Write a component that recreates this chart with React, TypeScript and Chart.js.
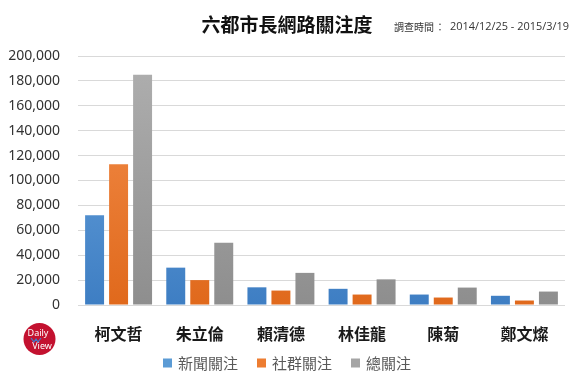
import React, { useEffect, useRef } from "react";
import { Chart, registerables } from "chart.js";
Chart.register(...registerables);

const categories = ["柯文哲", "朱立倫", "賴清德", "林佳龍", "陳菊", "鄭文燦"];
const newsValues = [72000, 30000, 14200, 13000, 8400, 7400];
const socialValues = [113000, 20000, 11600, 8400, 6000, 3600];
const totalValues = [185000, 50000, 25800, 20600, 14000, 10800];
const seriesNames = ["新聞關注", "社群關注", "總關注"];
const seriesColors = ["#5B9BD5", "#ED7D31", "#A5A5A5"];
const titleText = "六都市長網路關注度";
const subtitleLabel = "調查時間";
const subtitleDates = "2014/12/25 - 2015/3/19";

const CJK = '"Noto Sans CJK TC", "Noto Sans", sans-serif';

function grad(top: string, bottom: string) {
  return (ctx: any) => {
    const chart = ctx.chart;
    const area = chart.chartArea;
    if (!area) return bottom;
    const g = chart.ctx.createLinearGradient(0, area.top, 0, area.bottom);
    g.addColorStop(0, top);
    g.addColorStop(1, bottom);
    return g;
  };
}

const decorPlugin = {
  id: "decor",
  afterDraw(chart: any) {
    const c = chart.ctx;
    c.save();
    c.fillStyle = "#111";
    c.textBaseline = "middle";
    c.textAlign = "center";
    c.font = `bold 19px ${CJK}`;
    c.fillText(titleText, 287, 25);
    c.textAlign = "left";
    c.fillStyle = "#333";
    c.font = `10px ${CJK}`;
    c.fillText(subtitleLabel, 394, 27);
    c.fillText("：", 435, 27);
    c.font = `12px "Open Sans", "Noto Sans", sans-serif`;
    const w = c.measureText(subtitleDates).width;
    const fs = Math.min(12, (12 * 119) / w);
    c.font = `${fs}px "Open Sans", "Noto Sans", sans-serif`;
    c.fillText(subtitleDates, 450, 27);

    // legend
    c.font = `15px ${CJK}`;
    let x = 163;
    const y = 363;
    seriesNames.forEach((name, i) => {
      c.fillStyle = seriesColors[i];
      c.fillRect(x, y - 4.5, 9, 9);
      c.fillStyle = "#595959";
      c.fillText(name, x + 15, y);
      x += 15 + c.measureText(name).width + 19;
    });

    // logo
    c.beginPath();
    c.arc(39.5, 339, 16, 0, Math.PI * 2);
    c.fillStyle = "#C3112F";
    c.fill();
    c.textAlign = "center";
    c.fillStyle = "#fff";
    c.font = `9px "Noto Sans", sans-serif`;
    c.fillText("Daily", 38, 333);
    c.fillText("View", 42, 346);
    c.strokeStyle = "#3A7FD0";
    c.lineWidth = 1.2;
    c.beginPath();
    c.moveTo(31, 338);
    c.lineTo(34, 342);
    c.lineTo(36, 339);
    c.lineTo(38, 342);
    c.lineTo(41, 338);
    c.stroke();
    c.restore();
  },
};

export default function App() {
  const ref = useRef<HTMLCanvasElement>(null);
  useEffect(() => {
    if (!ref.current) return;
    const chart = new Chart(ref.current, {
      type: "bar",
      data: {
        labels: categories,
        datasets: [
          { label: seriesNames[0], data: newsValues, backgroundColor: grad("#70A9E1", "#3E7EC3") },
          { label: seriesNames[1], data: socialValues, backgroundColor: grad("#F4904E", "#E0691C") },
          { label: seriesNames[2], data: totalValues, backgroundColor: grad("#AFAFAF", "#8E8E8E") },
        ],
      },
      options: {
        animation: false,
        responsive: false,
        layout: { padding: { top: 56, right: 16, bottom: 0, left: 0 } },
        datasets: { bar: { categoryPercentage: 0.887, barPercentage: 0.79 } } as any,
        plugins: {
          title: { display: false },
          tooltip: { enabled: false },
          legend: { display: false },
        },
        scales: {
          x: {
            grid: { display: false, drawTicks: false },
            border: { display: false },
            ticks: { color: "#1a1a1a", font: { family: CJK, size: 16, weight: "bold" }, padding: 19 },
            afterFit(s: any) { s.height = 78; },
          },
          y: {
            min: 0,
            max: 200000,
            grid: { color: "#D9D9D9", drawTicks: false },
            border: { display: false },
            ticks: {
              stepSize: 20000,
              padding: 18,
              color: "#333",
              font: { family: '"Noto Sans", sans-serif', size: 14 },
              callback: (v: any) => Number(v).toLocaleString("en-US"),
            },
            afterFit(s: any) { s.width = 78; },
          },
        },
      },
      plugins: [decorPlugin],
    });
    return () => chart.destroy();
  }, []);
  return (
    <div style={{ position: "fixed", left: 0, top: 0, width: 581, height: 383, background: "#fff" }}>
      <canvas ref={ref} width={581} height={383} />
    </div>
  );
}
